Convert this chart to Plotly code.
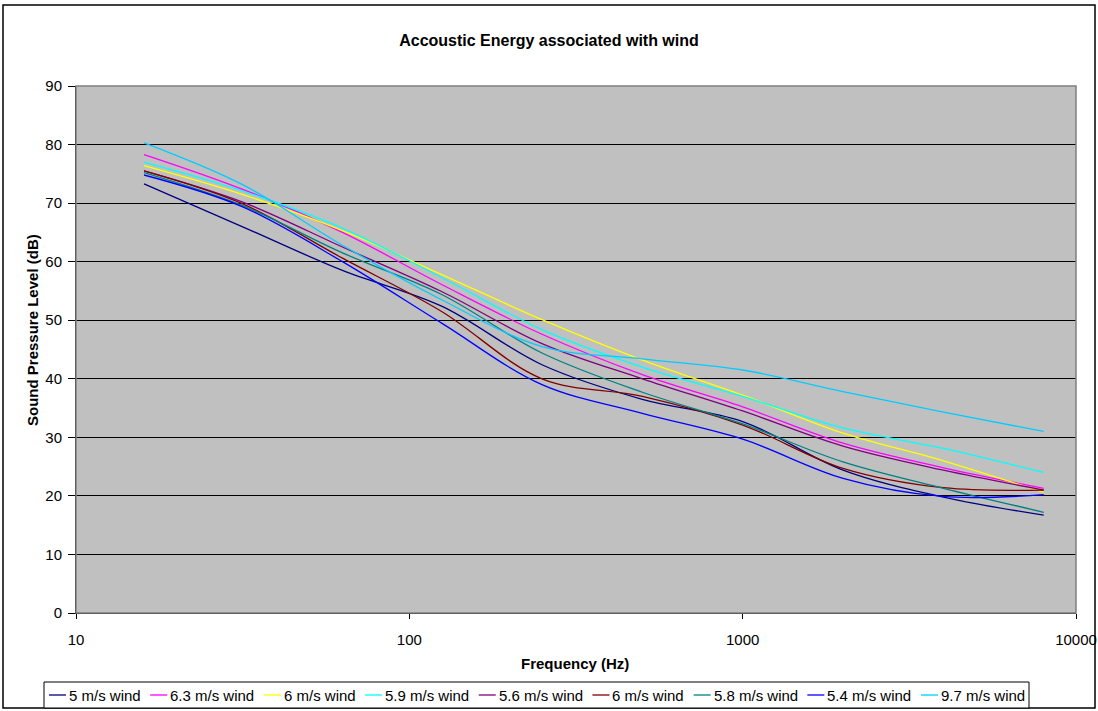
import plotly.graph_objects as go

freq_hz = [16, 31.5, 63, 125, 250, 500, 1000, 2000, 4000, 8000]

series_names = ["5 m/s wind", "6.3 m/s wind", "6 m/s wind", "5.9 m/s wind", "5.6 m/s wind",
                "6 m/s wind", "5.8 m/s wind", "5.4 m/s wind", "9.7 m/s wind"]
series_colors = ["#000080", "#FF00FF", "#FFFF00", "#00FFFF", "#800080",
                 "#800000", "#008080", "#0000FF", "#00CCFF"]

wind_5_0 = [73.3, 66.0, 58.5, 52.4, 42.4, 36.5, 32.7, 24.4, 19.8, 16.7]
wind_6_3 = [78.3, 72.4, 65.0, 56.1, 47.6, 40.7, 35.2, 29.0, 24.8, 21.3]
wind_6_0a = [76.4, 71.5, 65.3, 57.8, 50.1, 43.2, 37.2, 30.7, 26.0, 20.6]
wind_5_9 = [77.0, 72.1, 65.7, 57.3, 48.4, 42.0, 37.0, 31.6, 28.1, 24.0]
wind_5_6 = [75.5, 70.2, 62.5, 54.9, 46.0, 40.0, 34.5, 28.5, 24.4, 21.0]
wind_6_0b = [75.5, 69.9, 60.6, 51.5, 40.0, 37.0, 32.1, 24.7, 21.4, 21.0]
wind_5_8 = [75.2, 69.6, 61.5, 54.4, 44.4, 37.7, 32.3, 25.8, 21.3, 17.2]
wind_5_4 = [74.8, 69.4, 60.0, 49.5, 39.0, 34.1, 29.7, 23.0, 19.9, 20.2]
wind_9_7 = [80.3, 73.2, 62.8, 53.5, 45.5, 43.4, 41.5, 37.8, 34.3, 31.0]

series_values = [wind_5_0, wind_6_3, wind_6_0a, wind_5_9, wind_5_6,
                 wind_6_0b, wind_5_8, wind_5_4, wind_9_7]

x_tick_vals = [10, 100, 1000, 10000]
x_tick_text = ["10", "100", "1000", "10000"]

FONT = "Liberation Sans, Arial, sans-serif"

# ---- figure geometry (pixels) ----
W, H = 1098, 711
PL, PR, PT, PB = 76, 1076, 86, 613          # plot area edges
PW, PH = PR - PL, PB - PT


def px_x(px):
    return (px - PL) / PW


def px_y(py):
    return (PB - py) / PH


fig = go.Figure()
for name, color, vals in zip(series_names, series_colors, series_values):
    fig.add_trace(go.Scatter(
        x=freq_hz, y=vals, name=name, mode="lines",
        line=dict(color=color, width=1.3, shape="spline", smoothing=1.0),
        showlegend=False,
    ))

shapes = []
annotations = []

# outer chart frame
shapes.append(dict(type="rect", xref="paper", yref="paper",
                   x0=px_x(3), x1=px_x(1095), y0=px_y(708), y1=px_y(5),
                   line=dict(color="black", width=1.5), fillcolor="rgba(0,0,0,0)", layer="below"))
# plot area border (grey)
shapes.append(dict(type="rect", xref="paper", yref="paper", x0=0, x1=1, y0=0, y1=1,
                   line=dict(color="#808080", width=1.5), fillcolor="rgba(0,0,0,0)", layer="above"))

# ---- legend drawn as text + line samples (Excel style) ----
ARIAL_W = {"0": .556, "1": .556, "2": .556, "3": .556, "4": .556, "5": .556, "6": .556,
           "7": .556, "8": .556, "9": .556, ".": .278, " ": .278, "m": .833, "/": .278,
           "s": .5, "w": .722, "i": .222, "n": .556, "d": .556}
LEG_FONT = 15
LEG_Y = 695
shapes.append(dict(type="rect", xref="paper", yref="paper",
                   x0=px_x(44), x1=px_x(1029), y0=px_y(708), y1=px_y(682),
                   line=dict(color="black", width=1), fillcolor="white", layer="below"))
cx = 49.0
for name, color in zip(series_names, series_colors):
    tw = sum(ARIAL_W.get(c, 0.556) for c in name) * LEG_FONT
    shapes.append(dict(type="line", xref="paper", yref="paper",
                       x0=px_x(cx), x1=px_x(cx + 17), y0=px_y(LEG_Y), y1=px_y(LEG_Y),
                       line=dict(color=color, width=1.3)))
    annotations.append(dict(text=name, xref="paper", yref="paper",
                            x=px_x(cx + 19), y=px_y(LEG_Y), xanchor="left", yanchor="middle",
                            showarrow=False, borderpad=0,
                            font=dict(family=FONT, size=LEG_FONT, color="black")))
    cx += 17 + 3 + tw + 9.5

# axis titles as annotations (Excel placement)
annotations.append(dict(text="<b>Frequency (Hz)</b>", xref="paper", yref="paper",
                        x=px_x(575), y=px_y(663), xanchor="center", yanchor="middle",
                        showarrow=False, font=dict(family=FONT, size=15, color="black")))
annotations.append(dict(text="<b>Sound Pressure Level (dB)</b>", xref="paper", yref="paper",
                        x=px_x(32), y=px_y(330), xanchor="center", yanchor="middle",
                        textangle=-90, showarrow=False,
                        font=dict(family=FONT, size=15, color="black")))

fig.update_layout(
    width=W, height=H,
    paper_bgcolor="white", plot_bgcolor="#C0C0C0",
    margin=dict(l=PL, r=W - PR, t=PT, b=H - PB, autoexpand=False),
    font=dict(family=FONT, size=15, color="black"),
    title=dict(text="<b>Accoustic Energy associated with wind</b>",
               x=0.5, xanchor="center", xref="container",
               y=1 - 40 / H, yanchor="middle", yref="container",
               font=dict(family=FONT, size=16, color="black")),
    showlegend=False,
    shapes=shapes,
    annotations=annotations,
    xaxis=dict(type="log", range=[1, 4], tickvals=x_tick_vals, ticktext=x_tick_text,
               showgrid=False, zeroline=False, showline=True, linecolor="black", linewidth=1,
               ticks="outside", ticklen=5, tickcolor="black", ticklabelstandoff=8,
               automargin=False,
               tickfont=dict(family=FONT, size=15, color="black")),
    yaxis=dict(range=[0, 90], dtick=10, tick0=0,
               showgrid=True, gridcolor="black", gridwidth=1, zeroline=False,
               showline=True, linecolor="black", linewidth=1,
               ticks="outside", ticklen=7, tickcolor="black", ticklabelstandoff=3,
               automargin=False,
               tickfont=dict(family=FONT, size=15, color="black")),
)

fig.write_html("out.html",
               config={"displayModeBar": False},
               post_script="document.body.style.margin='0';document.body.style.overflow='hidden';")
